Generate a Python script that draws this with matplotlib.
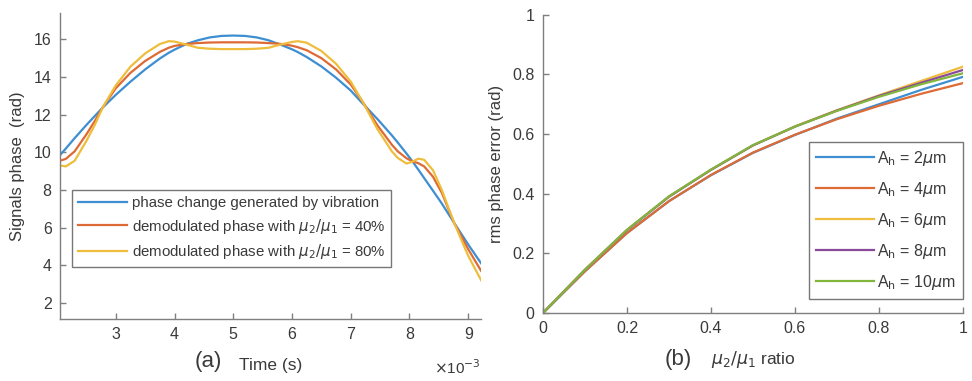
import matplotlib
matplotlib.use('Agg')
import matplotlib.pyplot as plt
from matplotlib.ticker import FuncFormatter

plt.rcParams['font.family'] = ['Liberation Sans', 'DejaVu Sans']
plt.rcParams['mathtext.fontset'] = 'dejavusans'

# ---- (a) signals phase vs time (time given in ms, plotted in s) ----
t_ms = [2.05, 2.15, 2.3, 2.5, 2.65, 2.78, 3.0, 3.25, 3.5, 3.75, 3.9, 4.0, 4.2, 4.4,
        4.6, 4.8, 5.0, 5.2, 5.4, 5.6, 5.8, 6.0, 6.1, 6.25, 6.5, 6.75, 7.0, 7.2,
        7.45, 7.7, 7.8, 7.95, 8.05, 8.15, 8.25, 8.4, 8.55, 8.76, 9.0, 9.22]
phase_vib = [9.85, 10.2, 10.75, 11.45, 11.95, 12.38, 13.05, 13.75, 14.4, 14.98, 15.28,
             15.45, 15.75, 15.95, 16.1, 16.18, 16.2, 16.18, 16.1, 15.95, 15.72, 15.47,
             15.32, 15.06, 14.56, 13.96, 13.28, 12.6, 11.78, 10.9, 10.52, 9.93, 9.52,
             9.08, 8.63, 7.96, 7.28, 6.25, 5.1, 4.1]
phase_40 = [9.55, 9.65, 10.05, 10.95, 11.7, 12.4, 13.4, 14.22, 14.85, 15.33, 15.55,
            15.65, 15.75, 15.8, 15.83, 15.84, 15.84, 15.84, 15.83, 15.8, 15.76, 15.66,
            15.58, 15.42, 15.0, 14.4, 13.6, 12.7, 11.45, 10.4, 10.05, 9.68, 9.52,
            9.42, 9.25, 8.7, 7.85, 6.25, 4.85, 3.7]
phase_80 = [9.3, 9.25, 9.55, 10.6, 11.5, 12.4, 13.55, 14.55, 15.25, 15.75, 15.9,
            15.88, 15.72, 15.55, 15.5, 15.48, 15.48, 15.48, 15.5, 15.55, 15.72, 15.86,
            15.9, 15.82, 15.38, 14.7, 13.75, 12.7, 11.25, 10.05, 9.7, 9.4, 9.5,
            9.66, 9.6, 9.05, 8.0, 6.25, 4.5, 3.2]
labels_a = ['phase change generated by vibration',
            r'demodulated phase with $\mu_2/\mu_1$ = 40%',
            r'demodulated phase with $\mu_2/\mu_1$ = 80%']

# ---- (b) rms phase error vs mu2/mu1 ratio ----
ratio = [0, 0.1, 0.2, 0.3, 0.4, 0.5, 0.6, 0.7, 0.8, 0.9, 1.0]
err_2um = [0, 0.14, 0.268, 0.375, 0.462, 0.537, 0.597, 0.652, 0.70, 0.748, 0.792]
err_4um = [0, 0.14, 0.268, 0.375, 0.463, 0.538, 0.598, 0.650, 0.695, 0.735, 0.771]
err_6um = [0, 0.145, 0.278, 0.39, 0.48, 0.562, 0.626, 0.680, 0.730, 0.778, 0.826]
err_8um = [0, 0.145, 0.278, 0.39, 0.48, 0.562, 0.625, 0.679, 0.728, 0.772, 0.815]
err_10um = [0, 0.145, 0.279, 0.391, 0.481, 0.563, 0.625, 0.678, 0.725, 0.767, 0.804]
labels_b = [r'A$_\mathrm{h}$ = 2$\mu$m', r'A$_\mathrm{h}$ = 4$\mu$m',
            r'A$_\mathrm{h}$ = 6$\mu$m', r'A$_\mathrm{h}$ = 8$\mu$m',
            r'A$_\mathrm{h}$ = 10$\mu$m']

colors = ['#3d8fd1', '#de6a35', '#efbd3c', '#8a4a9a', '#82b53c']
axis_col = '#7f7f7f'
text_col = '#3a3a3a'

fig = plt.figure(figsize=(9.72, 3.81), dpi=100)
ax1 = fig.add_axes([0.0617, 0.163, 0.4333, 0.803])
ax2 = fig.add_axes([0.5586, 0.1785, 0.432, 0.7825])


def style(ax):
    for s in ['top', 'right']:
        ax.spines[s].set_visible(False)
    for s in ['left', 'bottom']:
        ax.spines[s].set_color(axis_col)
        ax.spines[s].set_linewidth(1.0)
    ax.tick_params(direction='in', length=4, width=1.0, color=axis_col,
                   labelcolor=text_col, labelsize=11.5, pad=6)


def legend_frame(leg):
    leg.get_frame().set_edgecolor('#555555')
    leg.get_frame().set_linewidth(1.0)
    for txt in leg.get_texts():
        txt.set_color(text_col)


t_s = [v * 1e-3 for v in t_ms]
for y, c, lab in zip([phase_vib, phase_40, phase_80], colors, labels_a):
    ax1.plot(t_s, y, color=c, lw=1.6, label=lab)
ax1.set_xlim(2.05e-3, 9.22e-3)
ax1.set_ylim(1.15, 17.4)
ax1.set_xticks([3e-3, 4e-3, 5e-3, 6e-3, 7e-3, 8e-3, 9e-3])
ax1.set_yticks([2, 4, 6, 8, 10, 12, 14, 16])
ax1.xaxis.set_major_formatter(FuncFormatter(lambda v, p: '%g' % round(v * 1e3, 3)))
style(ax1)
ax1.set_ylabel('Signals phase  (rad)', fontsize=12, color=text_col, labelpad=6)
ax1.set_xlabel('Time (s)', fontsize=12.5, color=text_col, labelpad=11)
ax1.text(1.0, -0.128, r'$\times$10$^{-3}$', transform=ax1.transAxes, ha='right',
         va='top', fontsize=11, color=text_col)
leg1 = ax1.legend(loc='upper left', bbox_to_anchor=(0.028, 0.422), fontsize=10.8,
                  handlelength=3.3, handletextpad=0.3, labelspacing=0.45,
                  borderpad=0.4, frameon=True, fancybox=False, borderaxespad=0)
legend_frame(leg1)

for y, c, lab in zip([err_2um, err_4um, err_6um, err_8um, err_10um], colors, labels_b):
    ax2.plot(ratio, y, color=c, lw=1.6, label=lab)
ax2.set_xlim(0, 1)
ax2.set_ylim(0, 1)
ax2.set_xticks([0, 0.2, 0.4, 0.6, 0.8, 1])
ax2.set_yticks([0, 0.2, 0.4, 0.6, 0.8, 1])
ax2.xaxis.set_major_formatter(FuncFormatter(lambda v, p: '%g' % round(v, 2)))
ax2.yaxis.set_major_formatter(FuncFormatter(lambda v, p: '%g' % round(v, 2)))
style(ax2)
ax2.set_ylabel('rms phase error (rad)', fontsize=12, color=text_col, labelpad=6)
ax2.set_xlabel(r'$\mu_2/\mu_1$ ratio', fontsize=12.5, color=text_col, labelpad=9)
leg2 = ax2.legend(loc='upper right', bbox_to_anchor=(1.0, 0.575), fontsize=11.5,
                  handlelength=3.6, handletextpad=0.2, labelspacing=0.75,
                  borderpad=0.45, frameon=True, fancybox=False, borderaxespad=0)
legend_frame(leg2)

fig.text(208 / 972, 1 - 362 / 381, '(a)', fontsize=16, color=text_col,
         ha='center', va='center')
fig.text(678 / 972, 1 - 360 / 381, '(b)', fontsize=16, color=text_col,
         ha='center', va='center')

fig.savefig('out.png', dpi=100)
